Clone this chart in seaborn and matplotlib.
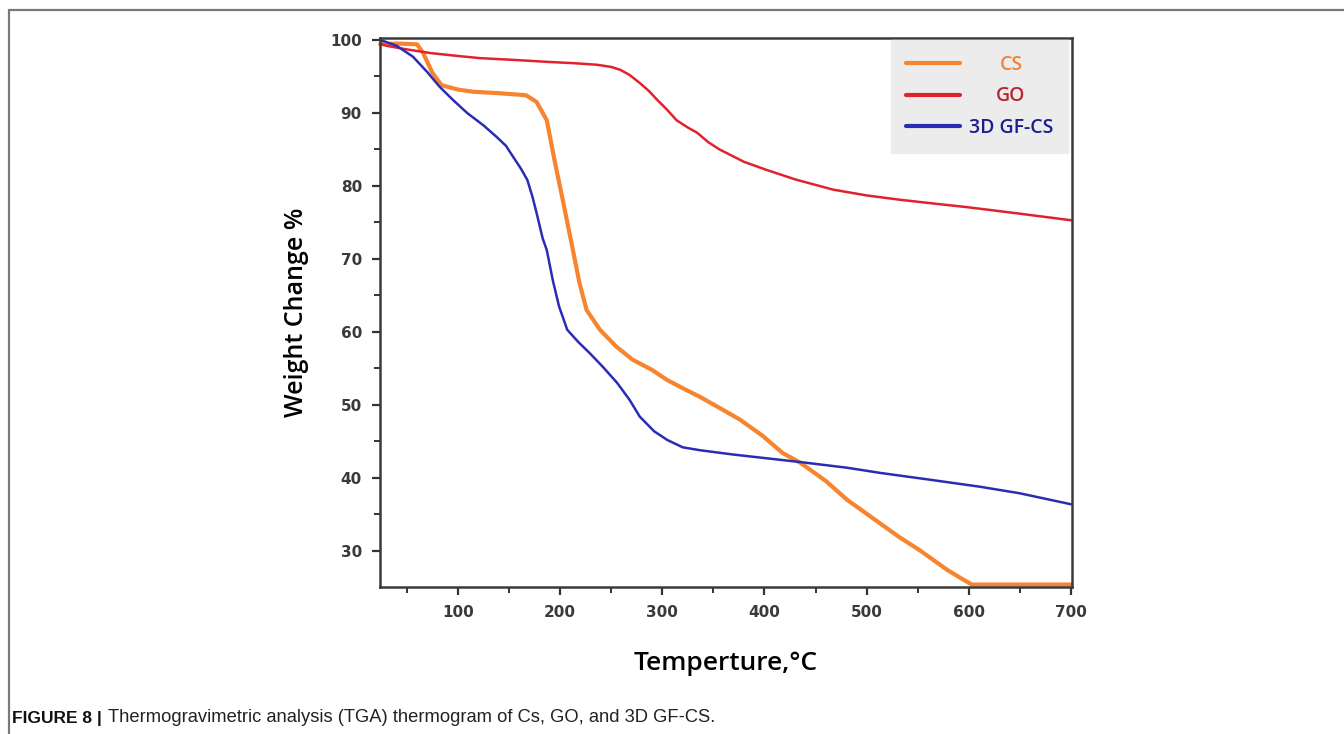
import matplotlib
matplotlib.use("Agg")
import matplotlib.pyplot as plt
from matplotlib.lines import Line2D
from matplotlib.ticker import MultipleLocator
import pandas as pd
import seaborn as sns

# TGA curves: temperature (C) / weight (%)
cs_temp = [24, 40, 60, 66, 75, 84, 100, 115, 140, 160, 167, 177, 187, 195, 202, 212, 219, 226,
           239, 255, 271, 290, 305, 320, 337, 356, 376, 398, 418, 435, 460, 481, 497, 513, 532,
           552, 566, 579, 592, 603, 650, 700]
cs_weight = [99.4, 99.5, 99.4, 98.2, 95.5, 93.8, 93.2, 92.9, 92.7, 92.5, 92.4, 91.5, 89.0, 83.2,
             78.5, 71.6, 66.7, 63.0, 60.3, 58.0, 56.2, 54.8, 53.4, 52.3, 51.1, 49.6, 48.0, 45.8,
             43.4, 42.1, 39.6, 37.0, 35.4, 33.8, 31.9, 30.1, 28.7, 27.4, 26.3, 25.4, 25.4, 25.4]

go_temp = [24, 30, 50, 73, 100, 122, 150, 187, 215, 236, 250, 259, 268, 278, 287, 295, 305, 314,
           325, 334, 345, 356, 380, 402, 430, 467, 500, 533, 565, 598, 650, 700]
go_weight = [99.5, 99.2, 98.7, 98.2, 97.8, 97.5, 97.3, 97.0, 96.8, 96.6, 96.3, 95.9, 95.2, 94.1,
             93.0, 91.8, 90.4, 89.0, 88.0, 87.3, 86.0, 85.0, 83.3, 82.2, 80.9, 79.5, 78.7, 78.1,
             77.6, 77.1, 76.2, 75.3]

gf_temp = [24, 40, 56, 70, 82, 95, 109, 125, 138, 147, 154, 162, 168, 173, 177, 183, 187, 193,
           199, 207, 218, 229, 242, 256, 268, 278, 292, 305, 320, 337, 370, 402, 440, 481, 513,
           560, 611, 650, 700]
gf_weight = [100.0, 99.2, 97.7, 95.6, 93.6, 91.8, 90.0, 88.3, 86.7, 85.5, 84.0, 82.3, 80.8, 78.5,
             76.3, 72.8, 71.2, 67.0, 63.5, 60.3, 58.6, 57.1, 55.2, 53.0, 50.7, 48.4, 46.4, 45.2,
             44.2, 43.8, 43.2, 42.7, 42.1, 41.4, 40.7, 39.8, 38.8, 37.9, 36.4]

labels = ["CS", "GO", "3D GF-CS"]
line_colors = ["#F7842E", "#E0222E", "#2A2DB4"]
text_colors = ["#F0843A", "#B8262E", "#1B1F8E"]
widths = [3.0, 1.8, 1.8]
x_ticks = [100, 200, 300, 400, 500, 600, 700]
y_ticks = [30, 40, 50, 60, 70, 80, 90, 100]

sns.set_theme(style="white")
plt.rcParams['font.family'] = ['Liberation Sans', 'DejaVu Sans']

fig = plt.figure(figsize=(13.44, 7.34), dpi=100)
ax = fig.add_axes([0.2827, 0.2003, 0.5149, 0.7480])

series = [(cs_temp, cs_weight), (go_temp, go_weight), (gf_temp, gf_weight)]
for (t, w), lab, col, lw in zip(series, labels, line_colors, widths):
    dp = pd.DataFrame({"temp": t, "weight": w})
    sns.lineplot(data=dp, x="temp", y="weight", ax=ax, color=col, lw=lw, label=lab,
                 sort=False, clip_on=False)

ax.set_xlim(23.7, 701)
ax.set_ylim(25.07, 100.27)
ax.set_xticks(x_ticks)
ax.set_yticks(y_ticks)
ax.xaxis.set_minor_locator(MultipleLocator(50))
ax.yaxis.set_minor_locator(MultipleLocator(5))
ax.tick_params(which="major", direction="out", length=6, width=1.6, color="#333333",
               labelsize=11, labelcolor="#3a3a3a", pad=7, bottom=True, left=True)
ax.tick_params(which="minor", direction="out", length=4, width=1.4, color="#333333",
               bottom=True, left=True)
for lbl in ax.get_xticklabels() + ax.get_yticklabels():
    lbl.set_fontweight("bold")
    lbl.set_family("DejaVu Sans")
for sp in ax.spines.values():
    sp.set_color("#3a3a3a")
    sp.set_linewidth(1.8)

ax.set_xlabel("Temperture,\u00b0C", fontsize=19, family=["Open Sans", "DejaVu Sans"],
              fontweight="semibold", color="black", labelpad=22)
ax.set_ylabel("Weight Change %", fontsize=18, family=["Open Sans", "DejaVu Sans"],
              fontweight="semibold", color="black", labelpad=15)

leg = ax.legend(loc="upper right", bbox_to_anchor=(0.994, 0.996), borderaxespad=0,
                frameon=True, fancybox=False, facecolor="#ECECEC", edgecolor="#ECECEC",
                framealpha=1, handlelength=2.8, handletextpad=0.45, borderpad=0.75,
                labelspacing=0.6,
                prop={"family": ["Open Sans", "DejaVu Sans"], "size": 14, "weight": "semibold"})
for line in leg.get_lines():
    line.set_linewidth(3)
for txt, col in zip(leg.get_texts(), text_colors):
    txt.set_color(col)

# centre the short labels over the longest one
fig.canvas.draw()
texts = leg.get_texts()
tw = [t.get_window_extent().width for t in texts]
wmax = max(tw)
for t, w in zip(texts, tw):
    t.set_position(((wmax - w) / 2, 0))

# page frame lines and caption
fig.add_artist(Line2D([9 / 1344, 1.0], [1 - 9.5 / 734] * 2, color="#7a7a7a", lw=1.6))
fig.add_artist(Line2D([9 / 1344] * 2, [0.0, 1 - 9.5 / 734], color="#7a7a7a", lw=1.6))
cap_bold = fig.text(12 / 1344, 1 - 718 / 734, "FIGURE 8 |", fontsize=12.5, fontweight="bold",
                    va="center", color="#111111")
fig.canvas.draw()
bx = cap_bold.get_window_extent().x1
fig.text((bx + 6) / 1344, 1 - 718 / 734,
         "Thermogravimetric analysis (TGA) thermogram of Cs, GO, and 3D GF-CS.",
         fontsize=13.2, va="center", color="#222222")

fig.savefig("out.png", dpi=100)
